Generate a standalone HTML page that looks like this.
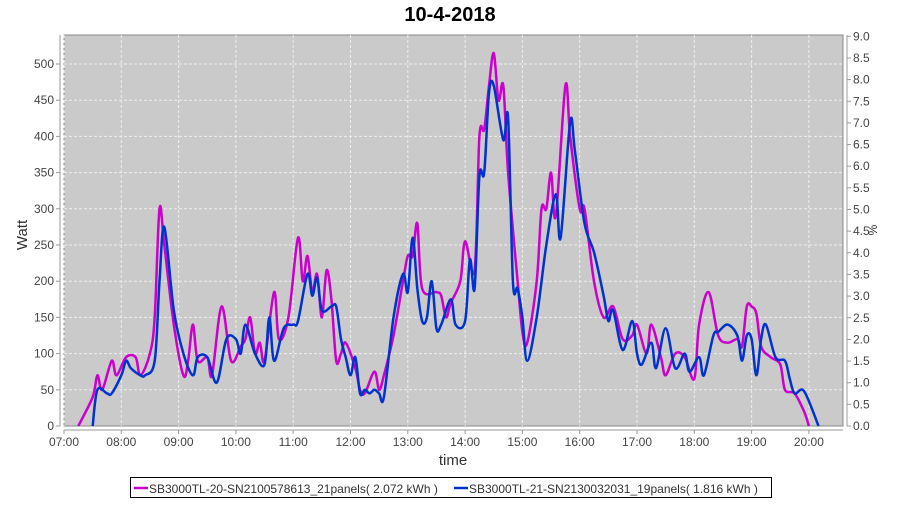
<!DOCTYPE html>
<html><head><meta charset="utf-8"><style>
body{margin:0;background:#fff;width:900px;height:500px;overflow:hidden;font-family:"Liberation Sans",sans-serif}
</style></head><body>
<svg id="s" width="900" height="500" xmlns="http://www.w3.org/2000/svg" font-family="Liberation Sans, sans-serif">
<text x="450" y="21" text-anchor="middle" font-size="20" font-weight="bold">10-4-2018</text>
<rect x="64" y="35" width="779" height="391" fill="#cacaca" stroke="#888" stroke-width="1"/>
<g id="grid" stroke="#eee" stroke-dasharray="3,2" stroke-width="1"></g>
<g id="axes" font-size="12" fill="#444"></g>
<text x="453" y="465" text-anchor="middle" font-size="15" fill="#333">time</text>
<text transform="translate(27,235) rotate(-90)" text-anchor="middle" font-size="15" fill="#333">Watt</text>
<text transform="translate(877,230) rotate(-90)" text-anchor="middle" font-size="12" fill="#333">%</text>
<g id="lines" fill="none" stroke-width="2.5" stroke-linejoin="round"></g>
<rect x="130.5" y="477.5" width="641" height="20" fill="#fff" stroke="#000"/>
<line x1="134" y1="488" x2="148" y2="488" stroke="#cc00cc" stroke-width="2.5"/>
<text x="149" y="493" font-size="12" fill="#333">SB3000TL-20-SN2100578613_21panels( 2.072 kWh  )</text>
<line x1="454" y1="488" x2="468" y2="488" stroke="#0033cc" stroke-width="2.5"/>
<text x="469" y="493" font-size="12" fill="#333">SB3000TL-21-SN2130032031_19panels( 1.816 kWh  )</text>
</svg>
<script>
var NS="http://www.w3.org/2000/svg";
function el(p,t,a,txt){var e=document.createElementNS(NS,t);for(var k in a)e.setAttribute(k,a[k]);if(txt!=null)e.textContent=txt;document.getElementById(p).appendChild(e);}
function X(h){return 64+(h-7)*57.3}
function Y(w){return 426-w*0.724}
for(var i=0;i<=13;i++){var x=X(7+i);el("grid","line",{x1:x,y1:35,x2:x,y2:426});
 el("axes","line",{x1:x,y1:430,x2:x,y2:434,stroke:"#999"});
 el("axes","text",{x:x,y:446,"text-anchor":"middle"},(7+i<10?"0":"")+(7+i)+":00");}
for(var w=0;w<=500;w+=50){var y=Y(w);if(w>0)el("grid","line",{x1:64,y1:y,x2:843,y2:y});
 el("axes","line",{x1:56,y1:y,x2:60,y2:y,stroke:"#999"});
 el("axes","text",{x:54,y:y+4,"text-anchor":"end"},w);}
for(var p=0;p<=18;p++){var y=426-p*0.5*43.3;
 el("axes","line",{x1:847,y1:y,x2:851,y2:y,stroke:"#999"});
 el("axes","text",{x:853,y:y+4},(p*0.5).toFixed(1));}
el("axes","line",{x1:60,y1:35,x2:60,y2:426,stroke:"#999"});
el("axes","line",{x1:64,y1:430,x2:843,y2:430,stroke:"#999"});
el("axes","line",{x1:847,y1:35,x2:847,y2:426,stroke:"#999"});
function T(s){var a=s.split(":");return +a[0]+a[1]/60}
var m="7:15 0,7:30 40,7:35 70,7:40 50,7:50 90,7:55 70,8:05 95,8:15 95,8:20 70,8:30 100,8:35 150,8:40 300,8:45 250,8:55 140,9:05 70,9:10 90,9:15 140,9:20 90,9:30 95,9:35 70,9:45 165,9:55 90,10:05 110,10:10 120,10:15 150,10:20 100,10:25 115,10:30 90,10:40 185,10:45 120,10:55 150,11:05 260,11:10 200,11:15 235,11:20 185,11:25 210,11:30 150,11:35 215,11:40 175,11:45 90,11:50 100,11:55 115,12:05 80,12:10 50,12:15 45,12:25 75,12:30 50,12:35 70,12:45 125,12:55 200,13:00 235,13:05 235,13:10 280,13:15 190,13:30 185,13:35 180,13:40 150,13:45 170,13:55 200,14:00 255,14:10 215,14:15 400,14:20 410,14:25 470,14:30 515,14:35 450,14:40 470,14:45 350,14:55 200,15:00 130,15:05 115,15:15 200,15:20 300,15:25 300,15:30 350,15:35 290,15:45 470,15:50 400,16:00 300,16:05 300,16:15 200,16:25 150,16:35 165,16:45 120,16:55 125,17:00 140,17:10 100,17:15 140,17:25 95,17:30 70,17:40 100,17:50 95,18:00 65,18:05 140,18:15 185,18:25 125,18:35 115,18:45 120,18:50 110,18:55 165,19:00 165,19:05 155,19:10 110,19:20 95,19:30 85,19:35 50,19:45 45,19:55 20,20:00 0";
var b="7:30 0,7:35 50,7:45 45,7:50 45,8:00 70,8:05 90,8:10 80,8:20 70,8:25 70,8:35 90,8:40 200,8:45 275,8:55 160,9:05 100,9:15 70,9:20 95,9:30 95,9:40 60,9:50 120,10:00 120,10:05 100,10:10 140,10:20 100,10:30 85,10:35 150,10:40 90,10:50 135,11:00 140,11:05 145,11:15 210,11:20 180,11:25 205,11:30 160,11:40 165,11:45 165,11:50 120,11:55 95,12:00 70,12:05 95,12:10 45,12:15 50,12:20 45,12:25 50,12:30 45,12:35 40,12:45 150,12:55 210,13:00 185,13:05 260,13:10 190,13:15 145,13:20 150,13:25 200,13:30 135,13:35 140,13:45 175,13:50 140,14:00 145,14:05 230,14:10 190,14:15 345,14:20 350,14:25 460,14:30 470,14:40 395,14:45 425,14:50 200,14:55 190,15:00 150,15:05 90,15:15 150,15:25 250,15:35 320,15:40 260,15:50 420,15:55 380,16:05 280,16:15 240,16:25 180,16:30 145,16:35 160,16:45 105,16:55 145,17:00 100,17:05 85,17:15 115,17:20 80,17:30 135,17:40 80,17:50 100,17:55 75,18:05 95,18:10 70,18:20 125,18:25 130,18:35 140,18:45 125,18:50 90,18:55 125,19:00 120,19:05 70,19:10 120,19:15 140,19:25 95,19:35 90,19:40 65,19:45 45,19:55 48,20:10 0";
function path(s){var P=s.split(",").map(function(q){var a=q.split(" ");return [X(T(a[0])),Y(+a[1])]});
 var d="M"+P[0][0].toFixed(1)+","+P[0][1].toFixed(1);
 for(var i=0;i<P.length-1;i++){var p0=P[Math.max(0,i-1)],p1=P[i],p2=P[i+1],p3=P[Math.min(P.length-1,i+2)];
  var c1=[p1[0]+(p2[0]-p0[0])/6,p1[1]+(p2[1]-p0[1])/6],c2=[p2[0]-(p3[0]-p1[0])/6,p2[1]-(p3[1]-p1[1])/6];
  d+="C"+c1.map(function(v){return v.toFixed(1)})+" "+c2.map(function(v){return v.toFixed(1)})+" "+p2[0].toFixed(1)+","+p2[1].toFixed(1);}
 return d;}
el("lines","path",{d:path(m),stroke:"#cc00cc"});
el("lines","path",{d:path(b),stroke:"#0033cc"});
</script>
</body></html>
